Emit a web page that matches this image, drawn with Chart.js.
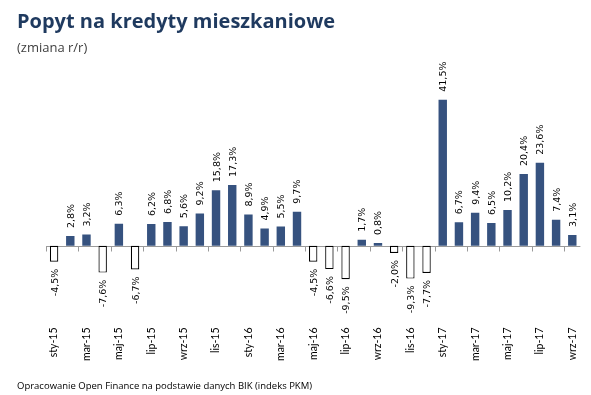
<!DOCTYPE html>
<html>
<head>
<meta charset="utf-8">
<script src="https://cdn.jsdelivr.net/npm/chart.js@4.4.0/dist/chart.umd.min.js"></script>
<style>
  html, body { margin: 0; padding: 0; background: #fff; }
  #wrap { position: relative; width: 591px; height: 395px; overflow: hidden; }
  #title { position: absolute; left: 17px; top: 7px; font: bold 20px "Open Sans", sans-serif; color: #1f3a5f; white-space: nowrap; }
  #sub { position: absolute; left: 17px; top: 38px; font: 13px "Open Sans", sans-serif; color: #404040; white-space: nowrap; }
  #foot { position: absolute; left: 17px; top: 379px; font: 9.5px "Open Sans", sans-serif; color: #000; white-space: nowrap; }
  canvas { position: absolute; left: 0; top: 0; }
</style>
</head>
<body>
<div id="wrap">
  <canvas id="c" width="591" height="395"></canvas>
  <div id="title">Popyt na kredyty mieszkaniowe</div>
  <div id="sub">(zmiana r/r)</div>
  <div id="foot">Opracowanie Open Finance na podstawie danych BIK (indeks PKM)</div>
</div>
<script>
const categories = [
  "sty-15","lut-15","mar-15","kwi-15","maj-15","cze-15","lip-15","sie-15","wrz-15","paź-15","lis-15","gru-15",
  "sty-16","lut-16","mar-16","kwi-16","maj-16","cze-16","lip-16","sie-16","wrz-16","paź-16","lis-16","gru-16",
  "sty-17","lut-17","mar-17","kwi-17","maj-17","cze-17","lip-17","sie-17","wrz-17"
];
const values = [
  -4.5, 2.8, 3.2, -7.6, 6.3, -6.7, 6.2, 6.8, 5.6, 9.2, 15.8, 17.3,
  8.9, 4.9, 5.5, 9.7, -4.5, -6.6, -9.5, 1.7, 0.8, -2.0, -9.3, -7.7,
  41.5, 6.7, 9.4, 6.5, 10.2, 20.4, 23.6, 7.4, 3.1
];
const yMin = -19.2;
const yMax = 47.1;

const fmt = v => v.toFixed(1).replace('.', ',') + '%';

const zeroLinePlugin = {
  id: 'zeroLine',
  beforeDatasetsDraw(chart) {
    const { ctx, chartArea, scales } = chart;
    const y0 = Math.round(scales.y.getPixelForValue(0)) + 0.5;
    const xs = scales.x;
    const half = (xs.getPixelForValue(1) - xs.getPixelForValue(0)) / 2;
    ctx.save();
    ctx.strokeStyle = '#9a9a9a';
    ctx.lineWidth = 1;
    ctx.beginPath();
    ctx.moveTo(chartArea.left, y0);
    ctx.lineTo(chartArea.right, y0);
    for (let i = 0; i < categories.length; i += 2) {
      const x = Math.round(xs.getPixelForValue(i) - half) + 0.5;
      ctx.moveTo(x, y0);
      ctx.lineTo(x, y0 + 5);
    }
    ctx.stroke();
    ctx.restore();
  }
};

const labelPlugin = {
  id: 'barLabels',
  afterDatasetsDraw(chart) {
    const { ctx } = chart;
    const meta = chart.getDatasetMeta(0);
    ctx.save();
    ctx.font = '9.5px "DejaVu Sans", sans-serif';
    ctx.fillStyle = '#000';
    ctx.textBaseline = 'middle';
    meta.data.forEach((bar, i) => {
      const v = values[i];
      ctx.save();
      if (v >= 0) {
        ctx.translate(bar.x + 1, bar.y - 8);
        ctx.rotate(-Math.PI / 2);
        ctx.textAlign = 'left';
      } else {
        ctx.translate(bar.x + 1, bar.y + 7);
        ctx.rotate(-Math.PI / 2);
        ctx.textAlign = 'right';
      }
      ctx.fillText(fmt(v), 0, 0);
      ctx.restore();
    });
    ctx.restore();
  }
};

new Chart(document.getElementById('c'), {
  type: 'bar',
  data: {
    labels: categories,
    datasets: [{
      data: values,
      backgroundColor: values.map(v => v >= 0 ? '#36527f' : '#ffffff'),
      borderColor: values.map(v => v >= 0 ? '#36527f' : '#000000'),
      borderWidth: values.map(v => v >= 0 ? 0 : 1.2),
      borderSkipped: false,
      categoryPercentage: 1,
      barPercentage: 0.52
    }]
  },
  options: {
    responsive: false,
    animation: false,
    devicePixelRatio: 1,
    layout: { padding: { left: 46, right: 7, top: 80, bottom: 28 } },
    plugins: { legend: { display: false }, tooltip: { enabled: false }, title: { display: false } },
    scales: {
      x: {
        grid: { display: false },
        border: { display: false },
        ticks: {
          autoSkip: false,
          minRotation: 90,
          maxRotation: 90,
          padding: 6,
          color: '#000',
          font: { family: 'Lato', size: 10.5 },
          callback: (val, i) => (i % 2 === 0 ? categories[i] : '')
        }
      },
      y: {
        display: false,
        min: yMin,
        max: yMax
      }
    }
  },
  plugins: [zeroLinePlugin, labelPlugin]
});
</script>
</body>
</html>
